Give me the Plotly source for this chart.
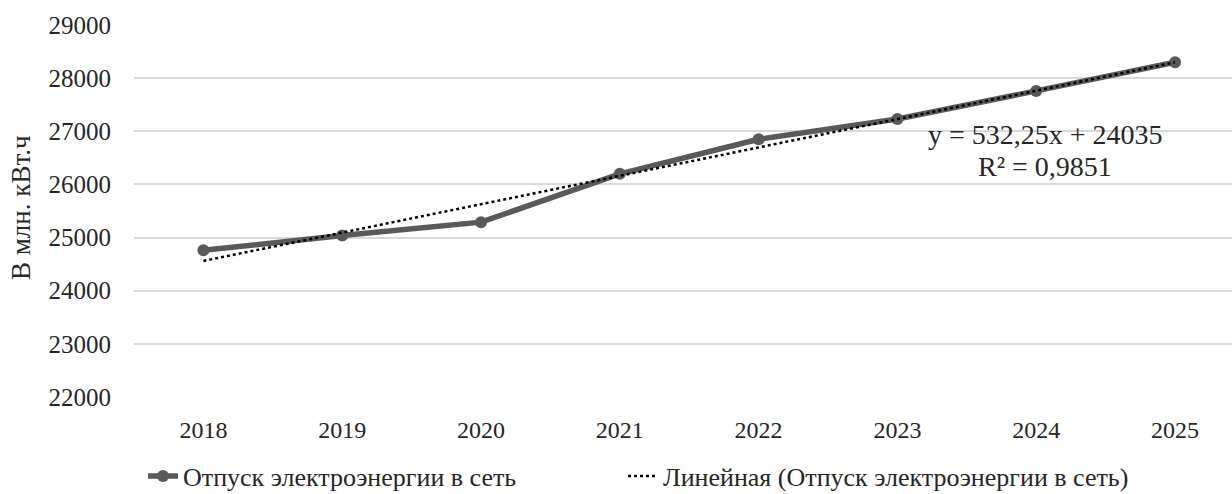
import numpy as np
import plotly.graph_objects as go

years = ["2018", "2019", "2020", "2021", "2022", "2023", "2024", "2025"]
supply = [24760, 25040, 25290, 26200, 26850, 27230, 27760, 28300]
series_name = "Отпуск электроэнергии в сеть"
trend_name = "Линейная (Отпуск электроэнергии в сеть)"
trend_eq = "y = 532,25x + 24035"
trend_r2 = "R² = 0,9851"
y_title = "В млн. кВт.ч"
y_ticks = [22000, 23000, 24000, 25000, 26000, 27000, 28000, 29000]

idx = np.arange(1, len(years) + 1)
slope, intercept = np.polyfit(idx, supply, 1)
trend = slope * idx + intercept

W, H = 1232, 494
L, R, T, B = 134, 0, 25, 97
PW, PH = W - L - R, H - T - B
font = "Liberation Serif, Times New Roman, serif"
txt = "#262626"


def px_x(p):
    return (p - L) / PW


def px_y(p):
    return 1 - (p - T) / PH


fig = go.Figure()
fig.add_trace(go.Scatter(
    x=years, y=supply, name=series_name, mode="lines+markers",
    line=dict(color="#595959", width=5.5),
    marker=dict(color="#595959", size=12, symbol="circle"),
    legend="legend", showlegend=True,
))
fig.add_trace(go.Scatter(
    x=years, y=trend, name=trend_name, mode="lines",
    line=dict(color="#000000", width=2.5, dash="dot"),
    legend="legend2", showlegend=True,
))

fig.add_annotation(
    xref="paper", yref="paper", x=px_x(1045), y=px_y(134),
    text=trend_eq, showarrow=False,
    font=dict(family=font, size=28, color=txt), xanchor="center", yanchor="middle",
)
fig.add_annotation(
    xref="paper", yref="paper", x=px_x(1045), y=px_y(166),
    text=trend_r2, showarrow=False,
    font=dict(family=font, size=28, color=txt), xanchor="center", yanchor="middle",
)
fig.add_annotation(
    xref="paper", yref="paper", x=px_x(21), y=px_y(208),
    text=y_title, textangle=-90, showarrow=False,
    font=dict(family=font, size=27, color=txt), xanchor="center", yanchor="middle",
)

leg_common = dict(
    orientation="h", xref="container", yref="container",
    y=1 - 476 / H, yanchor="middle",
    font=dict(family=font, size=26, color=txt), bgcolor="rgba(0,0,0,0)",
    borderwidth=0,
)

fig.update_layout(
    width=W, height=H,
    margin=dict(l=L, r=R, t=T, b=B, autoexpand=False),
    showlegend=True,
    paper_bgcolor="white", plot_bgcolor="white",
    font=dict(family=font, size=24, color=txt),
    xaxis=dict(
        type="category", range=[-0.5, 7 + (W - 1175) / 138.9],
        showgrid=False, zeroline=False, showline=False, ticks="",
        ticklabelstandoff=16, tickfont=dict(size=24, color=txt),
    ),
    yaxis=dict(
        range=[22000, 29000], tickvals=y_ticks, tickformat="d", showgrid=True,
        gridcolor="#d9d9d9", gridwidth=2, zeroline=False, showline=False,
        ticks="", ticklabelstandoff=22, tickfont=dict(size=25, color=txt),
    ),
    legend=dict(x=143 / W, xanchor="left", **leg_common),
    legend2=dict(x=623 / W, xanchor="left", **leg_common),
)

fig.write_html(
    "out.html",
    config={"displayModeBar": False},
    post_script="document.body.style.margin='0';",
)
